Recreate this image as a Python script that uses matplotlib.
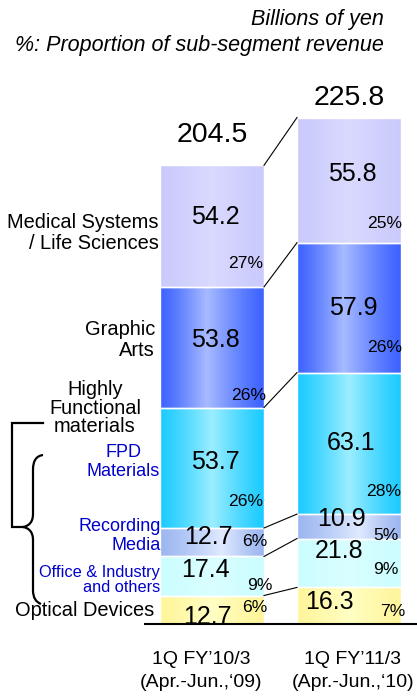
import matplotlib
matplotlib.use('Agg')
import matplotlib.pyplot as plt
import matplotlib.transforms as mtransforms
from matplotlib.patches import Rectangle, PathPatch
from matplotlib.path import Path
from matplotlib.colors import to_rgb
import numpy as np

plt.rcParams['font.family'] = ['Liberation Sans', 'DejaVu Sans']

# data (bottom -> top)
periods = ["1Q FY\u201910/3\n(Apr.-Jun.,\u201809)", "1Q FY\u201911/3\n(Apr.-Jun.,\u201810)"]
segments = ["Optical Devices", "Office & Industry and others", "Recording Media",
            "FPD Materials", "Graphic Arts", "Medical Systems / Life Sciences"]
fy10 = [12.7, 17.4, 12.7, 53.7, 53.8, 54.2]
fy11 = [16.3, 21.8, 10.9, 63.1, 57.9, 55.8]
share10 = ["6%", "9%", "6%", "26%", "26%", "27%"]
share11 = ["7%", "9%", "5%", "28%", "26%", "25%"]
totals = [204.5, 225.8]

# gradient colours (edge, centre, centre position) per segment
seg_colors = [("#fff59c", "#ffffc4", 0.5),
              ("#ccfdff", "#daffff", 0.5),
              ("#9cb6f0", "#e0eaff", 0.6),
              ("#1ccbff", "#9ceeff", 0.5),
              ("#3d63ff", "#a8bbff", 0.45),
              ("#cacafc", "#dadaff", 0.5)]

# text layout in pixels (x, y from top-left)
val_xy = [[(207, 617), (205, 570), (208, 537), (215, 462), (215, 340), (215, 217)],
          [(329, 602), (339, 551), (341, 519), (351, 443), (353, 308), (352, 174)]]
pct_xy = [[(267, 607), (273, 585), (267, 542), (263, 501), (266, 396), (263, 264)],
          [(405, 612), (399, 569), (399, 536), (401, 491), (402, 348), (402, 223)]]
total_xy = [(212, 135), (349, 98)]
period_xy = [(201, 671), (353, 671)]

W, H = 417, 696
fig = plt.figure(figsize=(W / 100, H / 100), dpi=100)
ax = fig.add_axes([0, 0, 1, 1])
ax.axis('off')
px = mtransforms.Affine2D().scale(1 / W, -1 / H).translate(0, 1) + fig.transFigure

xpos = np.arange(len(periods))
width = 0.759
series = [fy10, fy11]

t = np.linspace(0, 1, 200)

for i, vals in enumerate(series):
    bottoms = np.concatenate([[0], np.cumsum(vals)[:-1]])
    bars = ax.bar([xpos[i]] * len(vals), vals, width, bottom=bottoms,
                  color='none', edgecolor='none')
    for j, p in enumerate(bars.patches):
        e, c, m = seg_colors[j]
        c0 = np.array(to_rgb(e))
        c1 = np.array(to_rgb(c))
        prof = np.where(t < m, t / m, (1 - t) / (1 - m)) ** 1.2
        grad = (c0[None, :] * (1 - prof[:, None]) + c1[None, :] * prof[:, None])[None, :, :]
        im = ax.imshow(grad, extent=[p.get_x(), p.get_x() + p.get_width(),
                                     p.get_y(), p.get_y() + p.get_height()],
                       aspect='auto', interpolation='bilinear', zorder=1)
        im.set_clip_path(p)
    ax.bar([xpos[i]] * len(vals), vals, width, bottom=bottoms,
           fill=False, edgecolor='white', linewidth=1, zorder=3)

# connecting lines between the bars
c10 = np.cumsum(fy10)
c11 = np.cumsum(fy11)
for a, b in zip(c10, c11):
    ax.plot([xpos[0] + width / 2, xpos[1] - width / 2], [a, b],
            color='black', linewidth=0.8, zorder=4)

ax.set_xlim(-212 / 137, (W - 212) / 137)
ax.set_ylim(-(H - 624) / 2.243, 624 / 2.243)
ax.hlines(0, -0.5, 2, color='black', linewidth=1.5, zorder=5)

clip_rect = Rectangle((-2, 0), 5, 300, transform=ax.transData)

for i, vals in enumerate(series):
    shares = [share10, share11][i]
    for j, v in enumerate(vals):
        tx = ax.text(*val_xy[i][j], f"{v:.1f}", transform=px, ha='center',
                     va='center', fontsize=18, zorder=6)
        tx.set_clip_path(clip_rect)
        ax.text(*pct_xy[i][j], shares[j], transform=px, ha='right',
                va='center', fontsize=12.6, zorder=6)
    ax.text(*total_xy[i], f"{totals[i]:.1f}", transform=px, ha='center',
            va='center', fontsize=20.5)
    ax.text(*period_xy[i], periods[i], transform=px, ha='center', va='center',
            fontsize=14, linespacing=1.42)

# headers
ax.text(384, 20, "Billions of yen", transform=px, ha='right', va='center',
        fontsize=15.5, style='italic')
ax.text(384, 46, "%: Proportion of sub-segment revenue", transform=px,
        ha='right', va='center', fontsize=15.5, style='italic')

# segment labels
blue = '#0000cc'
ax.text(159, 233, "Medical Systems\n/ Life Sciences", transform=px, ha='right',
        va='center', fontsize=14.4, linespacing=1.08)
ax.text(155, 340, "Graphic\nArts", transform=px, ha='right', va='center',
        fontsize=14.4, linespacing=1.08)
ax.text(95, 408, "Highly\nFunctional\nmaterials", transform=px, ha='center',
        va='center', fontsize=14.4, linespacing=0.95)
ax.text(160, 462, "FPD\nMaterials", transform=px, ha='right', va='center',
        multialignment='center', fontsize=13, color=blue, linespacing=1.12)
ax.text(161, 536, "Recording\nMedia", transform=px, ha='right', va='center',
        fontsize=13, color=blue, linespacing=1.1)
ax.text(160, 580, "Office & Industry\nand others", transform=px, ha='right',
        va='center', fontsize=11.8, color=blue, linespacing=1.0)
ax.text(154, 611, "Optical Devices", transform=px, ha='right', va='center',
        fontsize=14.4)

# brackets
ax.plot([43, 12, 12, 23], [423, 423, 527, 527], transform=px, color='black',
        linewidth=1.6, solid_joinstyle='miter')
verts = [(43, 455), (36, 456), (33, 461), (33, 470), (33, 514),
         (33, 522), (29, 526), (23, 527), (29, 528), (33, 532), (33, 540),
         (33, 590), (33, 598), (36, 602), (41, 604)]
codes = [Path.MOVETO, Path.CURVE4, Path.CURVE4, Path.CURVE4, Path.LINETO,
         Path.CURVE4, Path.CURVE4, Path.CURVE4, Path.CURVE4, Path.CURVE4, Path.CURVE4,
         Path.LINETO, Path.CURVE4, Path.CURVE4, Path.CURVE4]
ax.add_patch(PathPatch(Path(verts, codes), transform=px, facecolor='none',
                       edgecolor='black', linewidth=1.6))

fig.savefig('out.png', dpi=100)
plt.close(fig)
